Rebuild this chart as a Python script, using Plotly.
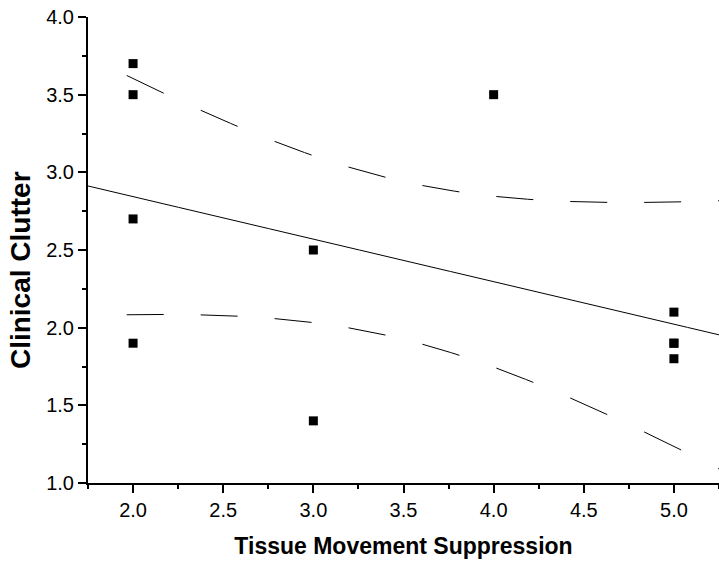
import numpy as np
import plotly.graph_objects as go

# ---- data ----
tissue_movement = [2, 2, 2, 2, 3, 3, 4, 5, 5, 5, 5]
clinical_clutter = [3.7, 3.5, 2.7, 1.9, 2.5, 1.4, 3.5, 2.1, 1.9, 1.9, 1.8]
x_ticks = [2.0, 2.5, 3.0, 3.5, 4.0, 4.5, 5.0]
y_ticks = [1.0, 1.5, 2.0, 2.5, 3.0, 3.5, 4.0]
X_RANGE = [1.75, 5.25]
Y_RANGE = [1.0, 4.0]
T_CRIT = 2.262  # t(0.975, df=9) for 95% confidence band

# ---- linear regression and 95% confidence band ----
x = np.array(tissue_movement, float)
y = np.array(clinical_clutter, float)
n = len(x)
slope, intercept = np.polyfit(x, y, 1)
resid = y - (slope * x + intercept)
s = np.sqrt(np.sum(resid ** 2) / (n - 2))
sxx = np.sum((x - x.mean()) ** 2)

xs = np.linspace(X_RANGE[0], X_RANGE[1], 1401)
fit = slope * xs + intercept
hw = T_CRIT * s * np.sqrt(1.0 / n + (xs - x.mean()) ** 2 / sxx)
upper = fit + hw
lower = fit - hw

# dash pattern measured along x (style constants, in x units)
DASH_START, DASH_PERIOD, DASH_LEN = 1.9633, 0.4101, 0.208
phase = np.mod(xs - DASH_START, DASH_PERIOD)
on = (phase < DASH_LEN) & (xs >= DASH_START)
up_d = [float(v) if m else None for v, m in zip(upper, on)]
lo_d = [float(v) if m else None for v, m in zip(lower, on)]

FONT = "Liberation Sans, Arial, sans-serif"

fig = go.Figure()
fig.add_trace(go.Scatter(x=xs, y=fit, mode="lines",
                         line=dict(color="black", width=1), hoverinfo="skip"))
fig.add_trace(go.Scatter(x=xs, y=up_d, mode="lines", connectgaps=False,
                         line=dict(color="black", width=1), hoverinfo="skip"))
fig.add_trace(go.Scatter(x=xs, y=lo_d, mode="lines", connectgaps=False,
                         line=dict(color="black", width=1), hoverinfo="skip"))
fig.add_trace(go.Scatter(x=tissue_movement, y=clinical_clutter, mode="markers",
                         marker=dict(symbol="square", size=9, color="black",
                                     line=dict(width=0))))

axis_common = dict(
    showgrid=False, zeroline=False, showline=True, linecolor="black", linewidth=2,
    ticks="outside", ticklen=8, tickwidth=1.5, tickcolor="black",
    tickfont=dict(family=FONT, size=20, color="black"),
    tickformat=".1f",
)

fig.update_layout(
    width=719, height=564,
    margin=dict(l=88, r=0, t=17, b=81),
    paper_bgcolor="white", plot_bgcolor="white",
    showlegend=False,
    xaxis=dict(range=X_RANGE, tickvals=x_ticks,
               minor=dict(dtick=0.25, tick0=1.75, ticklen=4, tickwidth=1.5,
                          tickcolor="black", ticks="outside", showgrid=False),
               title=dict(text="Tissue Movement Suppression", standoff=18,
                          font=dict(family=FONT, size=23, color="black", weight="bold")),
               **axis_common),
    yaxis=dict(range=Y_RANGE, tickvals=y_ticks,
               minor=dict(dtick=0.25, tick0=1.0, ticklen=4, tickwidth=1.5,
                          tickcolor="black", ticks="outside", showgrid=False),
               **axis_common),
    annotations=[dict(text="Clinical Clutter", textangle=-90, showarrow=False,
                      xref="paper", yref="paper", x=-0.107, y=0.458,
                      xanchor="center", yanchor="middle",
                      font=dict(family=FONT, size=28, color="black", weight="bold"))],
)

fig.write_html("out.html")
